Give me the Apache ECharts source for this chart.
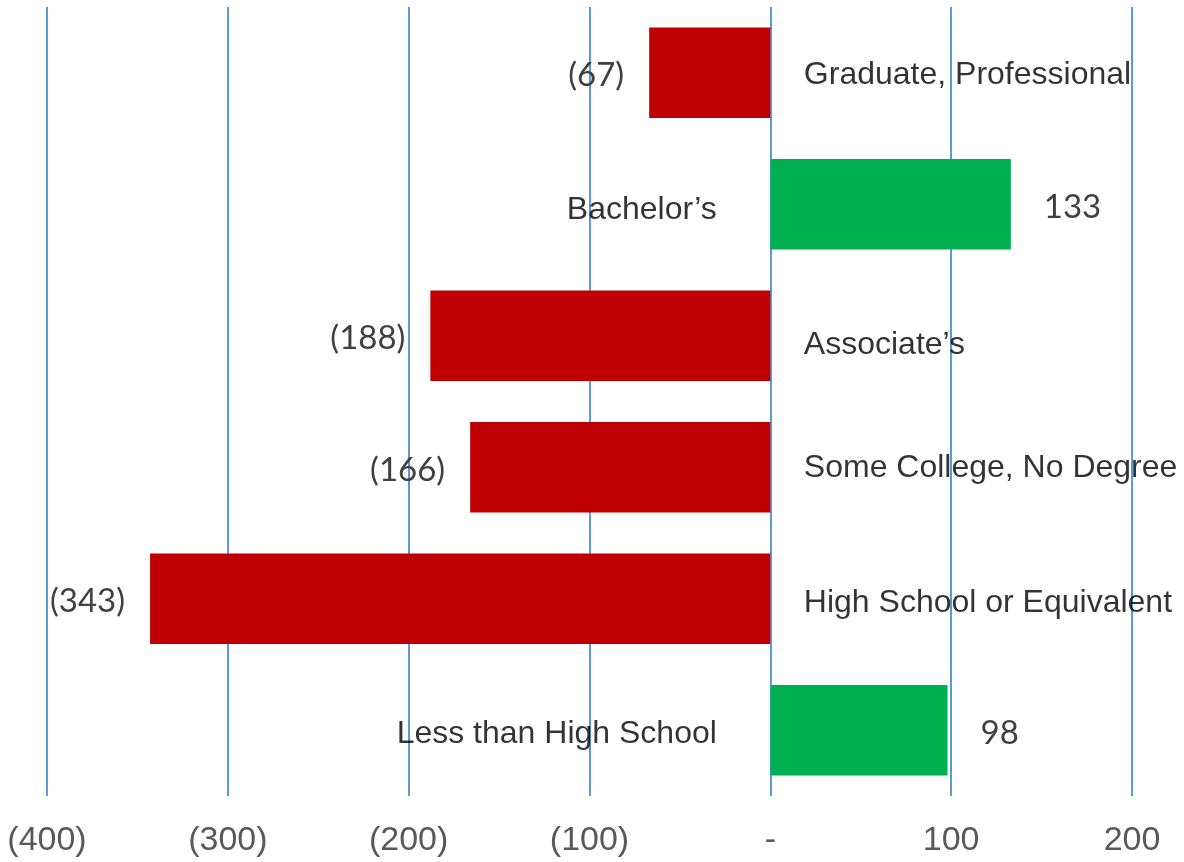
<!DOCTYPE html>
<html>
<head>
<meta charset="utf-8">
<script src="https://cdn.jsdelivr.net/npm/echarts@6/dist/echarts.min.js"></script>
<style>
  html, body { margin: 0; padding: 0; background: #fff; }
  #chart { width: 1184px; height: 862px; }
</style>
</head>
<body>
<div id="chart"></div>
<script>
const categories = [
  "Graduate, Professional",
  "Bachelor\u2019s",
  "Associate\u2019s",
  "Some College, No Degree",
  "High School or Equivalent",
  "Less than High School",
];
const values = [-67, 133, -188, -166, -343, 98];
const axisTicks = [-400, -300, -200, -100, 0, 100, 200];

// small vertical nudges for the category text (px), as in the source slide
const nameNudge = [2, 6, 9, 1, 4, 4];

const RED = "#C00000";
const GREEN = "#00B050";

function fmt(v) {
  if (v < 0) return "(" + -v + ")";
  if (v === 0) return "-";
  return String(v);
}

const chart = echarts.init(document.getElementById("chart"));

chart.setOption({
  animation: false,
  backgroundColor: "#fff",
  grid: { left: 47, right: 52, top: 7, bottom: 66 },
  xAxis: {
    type: "value",
    min: axisTicks[0],
    max: axisTicks[axisTicks.length - 1],
    interval: 100,
    axisLine: { show: false },
    axisTick: { show: false },
    splitLine: { show: true, lineStyle: { color: "#5B9BD5", width: 2 } },
    axisLabel: {
      color: "#595959",
      fontFamily: "Liberation Sans, Arial, sans-serif",
      fontSize: 34,
      margin: 28,
      formatter: fmt,
    },
  },
  yAxis: {
    type: "category",
    data: categories,
    inverse: true,
    axisLine: { show: false },
    axisTick: { show: false },
    axisLabel: { show: false },
    splitLine: { show: false },
  },
  series: [
    {
      type: "bar",
      barCategoryGap: "31%",
      data: values.map((v) => ({
        value: v,
        itemStyle: { color: v < 0 ? RED : GREEN },
        label: {
          show: true,
          position: v < 0 ? "left" : "right",
          distance: v < 0 ? 25 : 33,
        },
      })),
      label: {
        color: "#404040",
        fontFamily: "Lato, Noto Sans, sans-serif",
        fontSize: 33,
        offset: [0, 3],
        formatter: (p) => fmt(p.value),
      },
    },
    {
      type: "scatter",
      symbolSize: 1,
      itemStyle: { color: "rgba(0,0,0,0)" },
      silent: true,
      z: 5,
      data: values.map((v, i) => ({
        value: [0, categories[i]],
        label: {
          show: true,
          color: "#000000",
          position: v < 0 ? "right" : "left",
          distance: v < 0 ? 33 : 53,
          offset: [0, nameNudge[i]],
        },
      })),
      label: {
        color: "#000000",
        fontFamily: "Liberation Sans, Arial, sans-serif",
        fontSize: 32,
        formatter: (p) => categories[p.dataIndex],
      },
    },
  ],
});
</script>
</body>
</html>
